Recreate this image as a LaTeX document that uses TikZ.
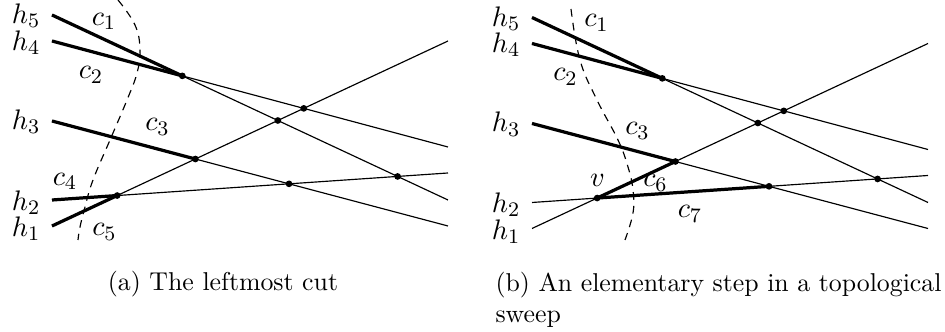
\documentclass[tikz,border=0pt]{standalone}
\usetikzlibrary{calc}
\tikzset{
  hl/.style={line width=0.45pt},
  thk/.style={line width=1.25pt},
  cutline/.style={line width=0.45pt, dash pattern=on 3pt off 2.4pt},
  dot/.style={circle, fill=black, inner sep=0pt, minimum size=2.6pt},
  lbl/.style={inner sep=0pt, font=\fontsize{11}{13}\selectfont},
  captxt/.style={inner sep=0pt, font=\fontsize{10}{12}\selectfont}
}
\newcommand\mypanel[3]{%
  \begin{scope}[shift={(#2,#3)}]
    \coordinate (#1h1s) at (52,226); \coordinate (#1h1e) at (448,41);
    \coordinate (#1h2s) at (52,200); \coordinate (#1h2e) at (448,173);
    \coordinate (#1h3s) at (52,121); \coordinate (#1h3e) at (448,226);
    \coordinate (#1h4s) at (52,41);  \coordinate (#1h4e) at (448,147);
    \coordinate (#1h5s) at (52,15);  \coordinate (#1h5e) at (448,200);
    \coordinate (#1p45) at (intersection of #1h4s--#1h4e and #1h5s--#1h5e);
    \coordinate (#1p15) at (intersection of #1h1s--#1h1e and #1h5s--#1h5e);
    \coordinate (#1p14) at (intersection of #1h1s--#1h1e and #1h4s--#1h4e);
    \coordinate (#1p13) at (intersection of #1h1s--#1h1e and #1h3s--#1h3e);
    \coordinate (#1p12) at (intersection of #1h1s--#1h1e and #1h2s--#1h2e);
    \coordinate (#1p23) at (intersection of #1h2s--#1h2e and #1h3s--#1h3e);
    \coordinate (#1p25) at (intersection of #1h2s--#1h2e and #1h5s--#1h5e);
    \foreach \i in {1,...,5} {\draw[hl] (#1h\i s) -- (#1h\i e);}
    \node[lbl, anchor=east] (#1lh5) at (41,16)    {$h_5$};
    \node[lbl, anchor=east] (#1lh4) at (41,42.5)  {$h_4$};
    \node[lbl, anchor=east] (#1lh3) at (41,121.7) {$h_3$};
    \node[lbl, anchor=east] (#1lh2) at (41,202.5) {$h_2$};
    \node[lbl, anchor=east] (#1lh1) at (41,229)   {$h_1$};
  \end{scope}}
\newcommand\mydots[1]{%
  \foreach \p in {45,15,14,13,12,23,25} {\node[dot] (#1d\p) at (#1p\p) {};}}
\begin{document}
\begin{tikzpicture}[x=0.3876pt, y=-0.3876pt]
  \useasboundingbox (0,0) rectangle (945,332);
  % ---------- panel (a)
  \mypanel{a}{0}{0}
  \draw[thk] (ah5s) -- (ap45);
  \draw[thk] (ah4s) -- (ap45);
  \draw[thk] (ah3s) -- (ap13);
  \draw[thk] (ah2s) -- (ap12);
  \draw[thk] (ah1s) -- (ap12);
  \mydots{a}
  \draw[cutline] plot[smooth, tension=0.7] coordinates
    {(118,0) (135,25) (140,50) (137,73) (127,100) (110,140) (93,180) (85,207) (80,227) (78,240)};
  \node[lbl] (ac1) at (104,21.5) {$c_1$};
  \node[lbl] (ac2) at (91,75)    {$c_2$};
  \node[lbl] (ac3) at (157.5,127) {$c_3$};
  \node[lbl] (ac4) at (65,181.5) {$c_4$};
  \node[lbl] (ac5) at (104.5,232) {$c_5$};
  \node[captxt, anchor=base] (capa) at (223,291) {(a) The leftmost cut};
  % ---------- panel (b)
  \mypanel{b}{480}{2.5}
  \draw[thk] (bh5s) -- (bp45);
  \draw[thk] (bh4s) -- (bp45);
  \draw[thk] (bh3s) -- (bp13);
  \draw[thk] (bp12) -- (bp13);
  \draw[thk] (bp12) -- (bp23);
  \mydots{b}
  \draw[cutline] plot[smooth, tension=0.7] coordinates
    {(571,9) (580,60) (597,100) (618,140) (628,167) (633,190) (633,213) (625,240)};
  \node[lbl] (bc1) at (596.5,23)  {$c_1$};
  \node[lbl] (bc2) at (565.5,77)  {$c_2$};
  \node[lbl] (bc3) at (637.5,131) {$c_3$};
  \node[lbl] (bv)  at (597.5,180.5) {$v$};
  \node[lbl] (bc6) at (655.5,183) {$c_6$};
  \node[lbl] (bc7) at (690,214)   {$c_7$};
  \node[captxt, anchor=north west, align=left] (capb) at (495,272)
    {(b) An elementary step in a topological\\sweep};
\end{tikzpicture}
\end{document}
